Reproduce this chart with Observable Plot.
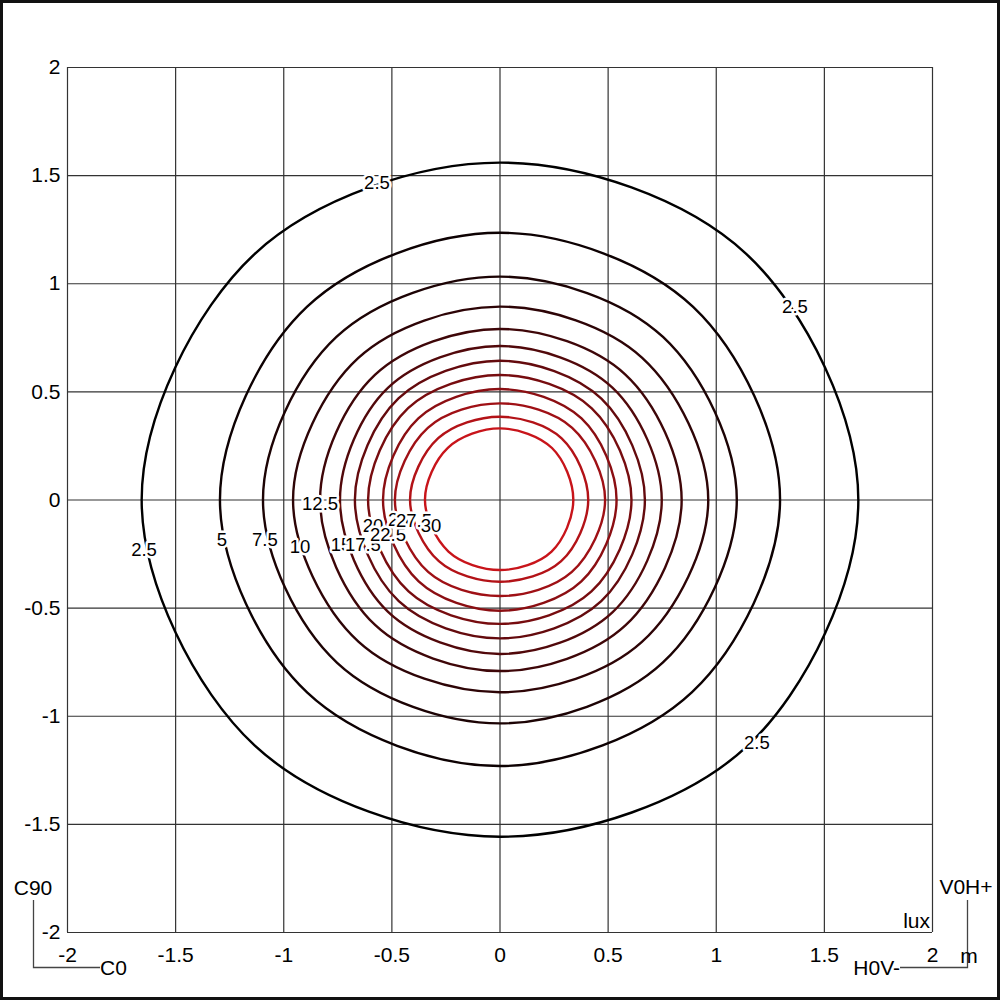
<!DOCTYPE html>
<html>
<head>
<meta charset="utf-8">
<script src="https://cdn.jsdelivr.net/npm/d3@7"></script>
<script src="https://cdn.jsdelivr.net/npm/@observablehq/plot@0.6"></script>
<style>
  html, body { margin: 0; padding: 0; background: #fff; }
  #chart { width: 1000px; height: 1000px; position: relative; }
  svg { display: block; }
</style>
</head>
<body>
<div id="chart"></div>
<script>
// Isolux levels (lux)
const levels = [2.5, 5, 7.5, 10, 12.5, 15, 17.5, 20, 22.5, 25, 27.5, 30];
// Contour radii (m) in 8 directions (E, NE, N, NW, W, SW, S, SE)
const rE  = [1.657, 1.295, 1.095, 0.963, 0.840, 0.748, 0.670, 0.608, 0.539, 0.486, 0.408, 0.339];
const rNE = [1.610, 1.263, 1.066, 0.930, 0.820, 0.735, 0.663, 0.600, 0.533, 0.472, 0.403, 0.340];
const rN  = [1.560, 1.236, 1.033, 0.894, 0.791, 0.712, 0.644, 0.578, 0.513, 0.447, 0.385, 0.331];
const rNW = [1.607, 1.263, 1.068, 0.928, 0.818, 0.733, 0.664, 0.601, 0.534, 0.472, 0.404, 0.341];
const rW  = [1.657, 1.295, 1.096, 0.957, 0.832, 0.740, 0.671, 0.610, 0.541, 0.486, 0.416, 0.347];
const rSW = [1.605, 1.260, 1.065, 0.926, 0.817, 0.732, 0.662, 0.598, 0.532, 0.470, 0.400, 0.337];
const rS  = [1.557, 1.230, 1.033, 0.889, 0.791, 0.712, 0.640, 0.573, 0.512, 0.444, 0.378, 0.324];
const rSE = [1.613, 1.256, 1.064, 0.928, 0.820, 0.735, 0.662, 0.598, 0.532, 0.470, 0.400, 0.337];
const dirAngles = [0, 45, 90, 135, 180, 225, 270, 315];

// Tick values and labels (m)
const tickValues = [-2, -1.5, -1, -0.5, 0, 0.5, 1, 1.5, 2];
const tickLabels = ["-2", "-1.5", "-1", "-0.5", "0", "0.5", "1", "1.5", "2"];

// Contour labels: text, x (m), y (m)
const labelText = ["2.5", "2.5", "2.5", "2.5", "5", "7.5", "10", "12.5", "15", "17.5", "20", "22.5", "25", "27.5", "30"];
const labelX = [-0.569, 1.364, -1.646, 1.188, -1.286, -1.087, -0.925, -0.832, -0.735, -0.634, -0.587, -0.518, -0.470, -0.398, -0.319];
const labelY = [1.466, 0.892, -0.231, -1.124, -0.185, -0.185, -0.217, -0.018, -0.208, -0.208, -0.120, -0.162, -0.092, -0.097, -0.120];

// Build contour table
const radii = [rE, rNE, rN, rNW, rW, rSW, rS, rSE];
const contourPts = [];
levels.forEach((lv, i) => {
  dirAngles.forEach((a, k) => {
    const r = radii[k][i];
    const t = a * Math.PI / 180;
    contourPts.push({level: lv, idx: i, x: r * Math.cos(t), y: r * Math.sin(t)});
  });
});
const colorFor = i => d3.interpolateRgb("#000000", "#c8141a")(Math.pow(i / (levels.length - 1), 1.15));
const labels = labelText.map((t, i) => ({text: t, x: labelX[i], y: labelY[i]}));

const font = "'Liberation Sans', Arial, Helvetica, sans-serif";

const chart = Plot.plot({
  width: 1000,
  height: 1000,
  marginLeft: 67,
  marginRight: 68,
  marginTop: 67,
  marginBottom: 68,
  style: {fontFamily: font, fontSize: "21px", background: "#fff", color: "#000"},
  x: {domain: [-2, 2], label: null},
  y: {domain: [-2, 2], label: null},
  marks: [
    Plot.gridX(tickValues, {stroke: "#333", strokeOpacity: 1, strokeWidth: 1.2}),
    Plot.gridY(tickValues, {stroke: "#333", strokeOpacity: 1, strokeWidth: 1.2}),
    Plot.axisX({ticks: tickValues, tickSize: 0, tickPadding: 15, tickFormat: d => tickLabels[tickValues.indexOf(d)], fontSize: 21, label: null}),
    Plot.axisY({ticks: tickValues, tickSize: 0, tickPadding: 7, tickFormat: d => tickLabels[tickValues.indexOf(d)], fontSize: 21, label: null}),
    ...levels.map((lv, i) => Plot.line(contourPts.filter(d => d.idx === i), {
      x: "x", y: "y", curve: "catmull-rom-closed",
      stroke: colorFor(i), strokeWidth: 2.4
    })),
    Plot.text(labels, {
      x: "x", y: "y", text: "text", fontSize: 18.5, fill: "#000",
      stroke: "#fff", strokeWidth: 5, fontFamily: font
    })
  ]
});

const svg = d3.select(chart);
// outer border
svg.append("rect").attr("x", 1.5).attr("y", 1.5).attr("width", 997).attr("height", 997)
  .attr("fill", "none").attr("stroke", "#111").attr("stroke-width", 3);
// orientation annotations
const g = svg.append("g").attr("font-family", font).attr("font-size", 21).attr("fill", "#000");
g.append("path").attr("d", "M33.5,900V967.5H100").attr("fill", "none").attr("stroke", "#444").attr("stroke-width", 1.3);
g.append("path").attr("d", "M900,967.5H967.5V900").attr("fill", "none").attr("stroke", "#444").attr("stroke-width", 1.3);
g.append("text").attr("x", 33).attr("y", 888).attr("text-anchor", "middle").attr("dy", "0.35em").text("C90");
g.append("text").attr("x", 100).attr("y", 968).attr("text-anchor", "start").attr("dy", "0.35em").text("C0");
g.append("text").attr("x", 966).attr("y", 887).attr("text-anchor", "middle").attr("dy", "0.35em").text("V0H+");
g.append("text").attr("x", 900).attr("y", 968).attr("text-anchor", "end").attr("dy", "0.35em").text("H0V-");
g.append("text").attr("x", 969).attr("y", 956).attr("text-anchor", "middle").attr("dy", "0.35em").text("m");
g.append("text").attr("x", 930).attr("y", 921).attr("text-anchor", "end").attr("dy", "0.35em").text("lux");

document.getElementById("chart").appendChild(chart);
</script>
</body>
</html>
